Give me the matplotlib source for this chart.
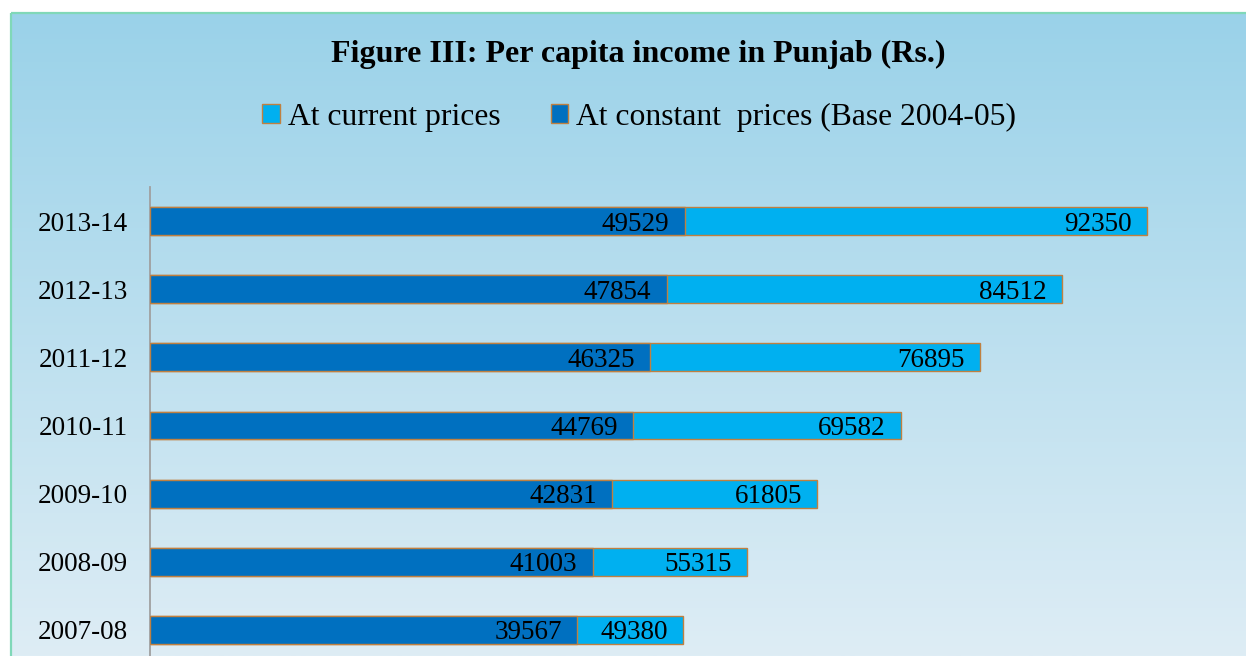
import numpy as np
import matplotlib.pyplot as plt
from matplotlib.patches import Patch

# ================= DATA =================
YEARS = ['2007-08', '2008-09', '2009-10', '2010-11', '2011-12', '2012-13', '2013-14']
CURRENT = [49380, 55315, 61805, 69582, 76895, 84512, 92350]
CONSTANT = [39567, 41003, 42831, 44769, 46325, 47854, 49529]

TITLE = "Figure III: Per capita income in Punjab (Rs.)"
LABEL_CURRENT = "At current prices"
LABEL_CONSTANT = "At constant  prices (Base 2004-05)"

# ================= STYLE =================
W, H = 1246, 656
SERIF = ['Liberation Serif', 'DejaVu Serif']
DARK = '#0070c0'
LIGHT = '#00b0f0'
EDGE = '#c08040'
BORDER = '#80d8b8'
TOP_BG = np.array([0x9a, 0xd2, 0xe9]) / 255
BOT_BG = np.array([0xde, 0xed, 0xf5]) / 255

plt.rcParams['font.family'] = SERIF

fig = plt.figure(figsize=(W / 100, H / 100), dpi=100)
fig.patch.set_facecolor('white')

# background gradient box with green border on top/left
bg = fig.add_axes([0, 0, 1, 1])
bg.set_xlim(0, W)
bg.set_ylim(H, 0)
bg.axis('off')
grad = np.linspace(0, 1, 256)[:, None, None]
img = TOP_BG * (1 - grad) + BOT_BG * grad
bg.imshow(img, extent=[12, W, H, 14], aspect='auto', zorder=0)
bg.plot([11, W], [13, 13], color=BORDER, lw=1.6, zorder=1, solid_capstyle='butt')
bg.plot([11, 11], [13, H], color=BORDER, lw=1.6, zorder=1, solid_capstyle='butt')

# main bar axes
x0, x1 = 150, 150 + 100000 * (1147 - 150) / 92350
top, bot = 187, 664
ax = fig.add_axes([x0 / W, 1 - bot / H, (x1 - x0) / W, (bot - top) / H])
ax.set_facecolor('none')

y = np.arange(len(YEARS))
ax.barh(y, CURRENT, height=0.41, color=LIGHT, edgecolor=EDGE, linewidth=1.0, zorder=2)
ax.barh(y, CONSTANT, height=0.41, color=DARK, edgecolor=EDGE, linewidth=1.0, zorder=3)

for yi, c, k in zip(y, CURRENT, CONSTANT):
    ax.annotate(f"{c}", (c, yi), xytext=(-11, 0), textcoords='offset points',
                ha='right', va='center_baseline', fontsize=19.5, color='black', zorder=4)
    ax.annotate(f"{k}", (k, yi), xytext=(-11, 0), textcoords='offset points',
                ha='right', va='center_baseline', fontsize=19.5, color='black', zorder=4)

ax.set_xlim(0, 100000)
ax.set_ylim(-0.5, 6.5)
ax.set_yticks(y)
ax.set_yticklabels(YEARS, fontsize=19.5, va='center_baseline')
ax.tick_params(axis='y', length=0, pad=16)
ax.set_xticks([])
for s in ['top', 'right', 'bottom']:
    ax.spines[s].set_visible(False)
ax.spines['left'].set_color('#a0a0a0')
ax.spines['left'].set_linewidth(1.3)

fig.text(0.512, 1 - 51 / H, TITLE, ha='center', va='center_baseline', fontsize=23, fontweight='bold')

handles = [Patch(facecolor=LIGHT, edgecolor=EDGE, label=LABEL_CURRENT),
           Patch(facecolor=DARK, edgecolor=EDGE, label=LABEL_CONSTANT)]
fig.legend(handles=handles, loc='center', bbox_to_anchor=(0.513, 1 - 117 / H), ncol=2,
           frameon=False, fontsize=22.8, handlelength=0.55, handleheight=0.55,
           handletextpad=0.25, columnspacing=1.6)

fig.savefig('out.png', dpi=100)
